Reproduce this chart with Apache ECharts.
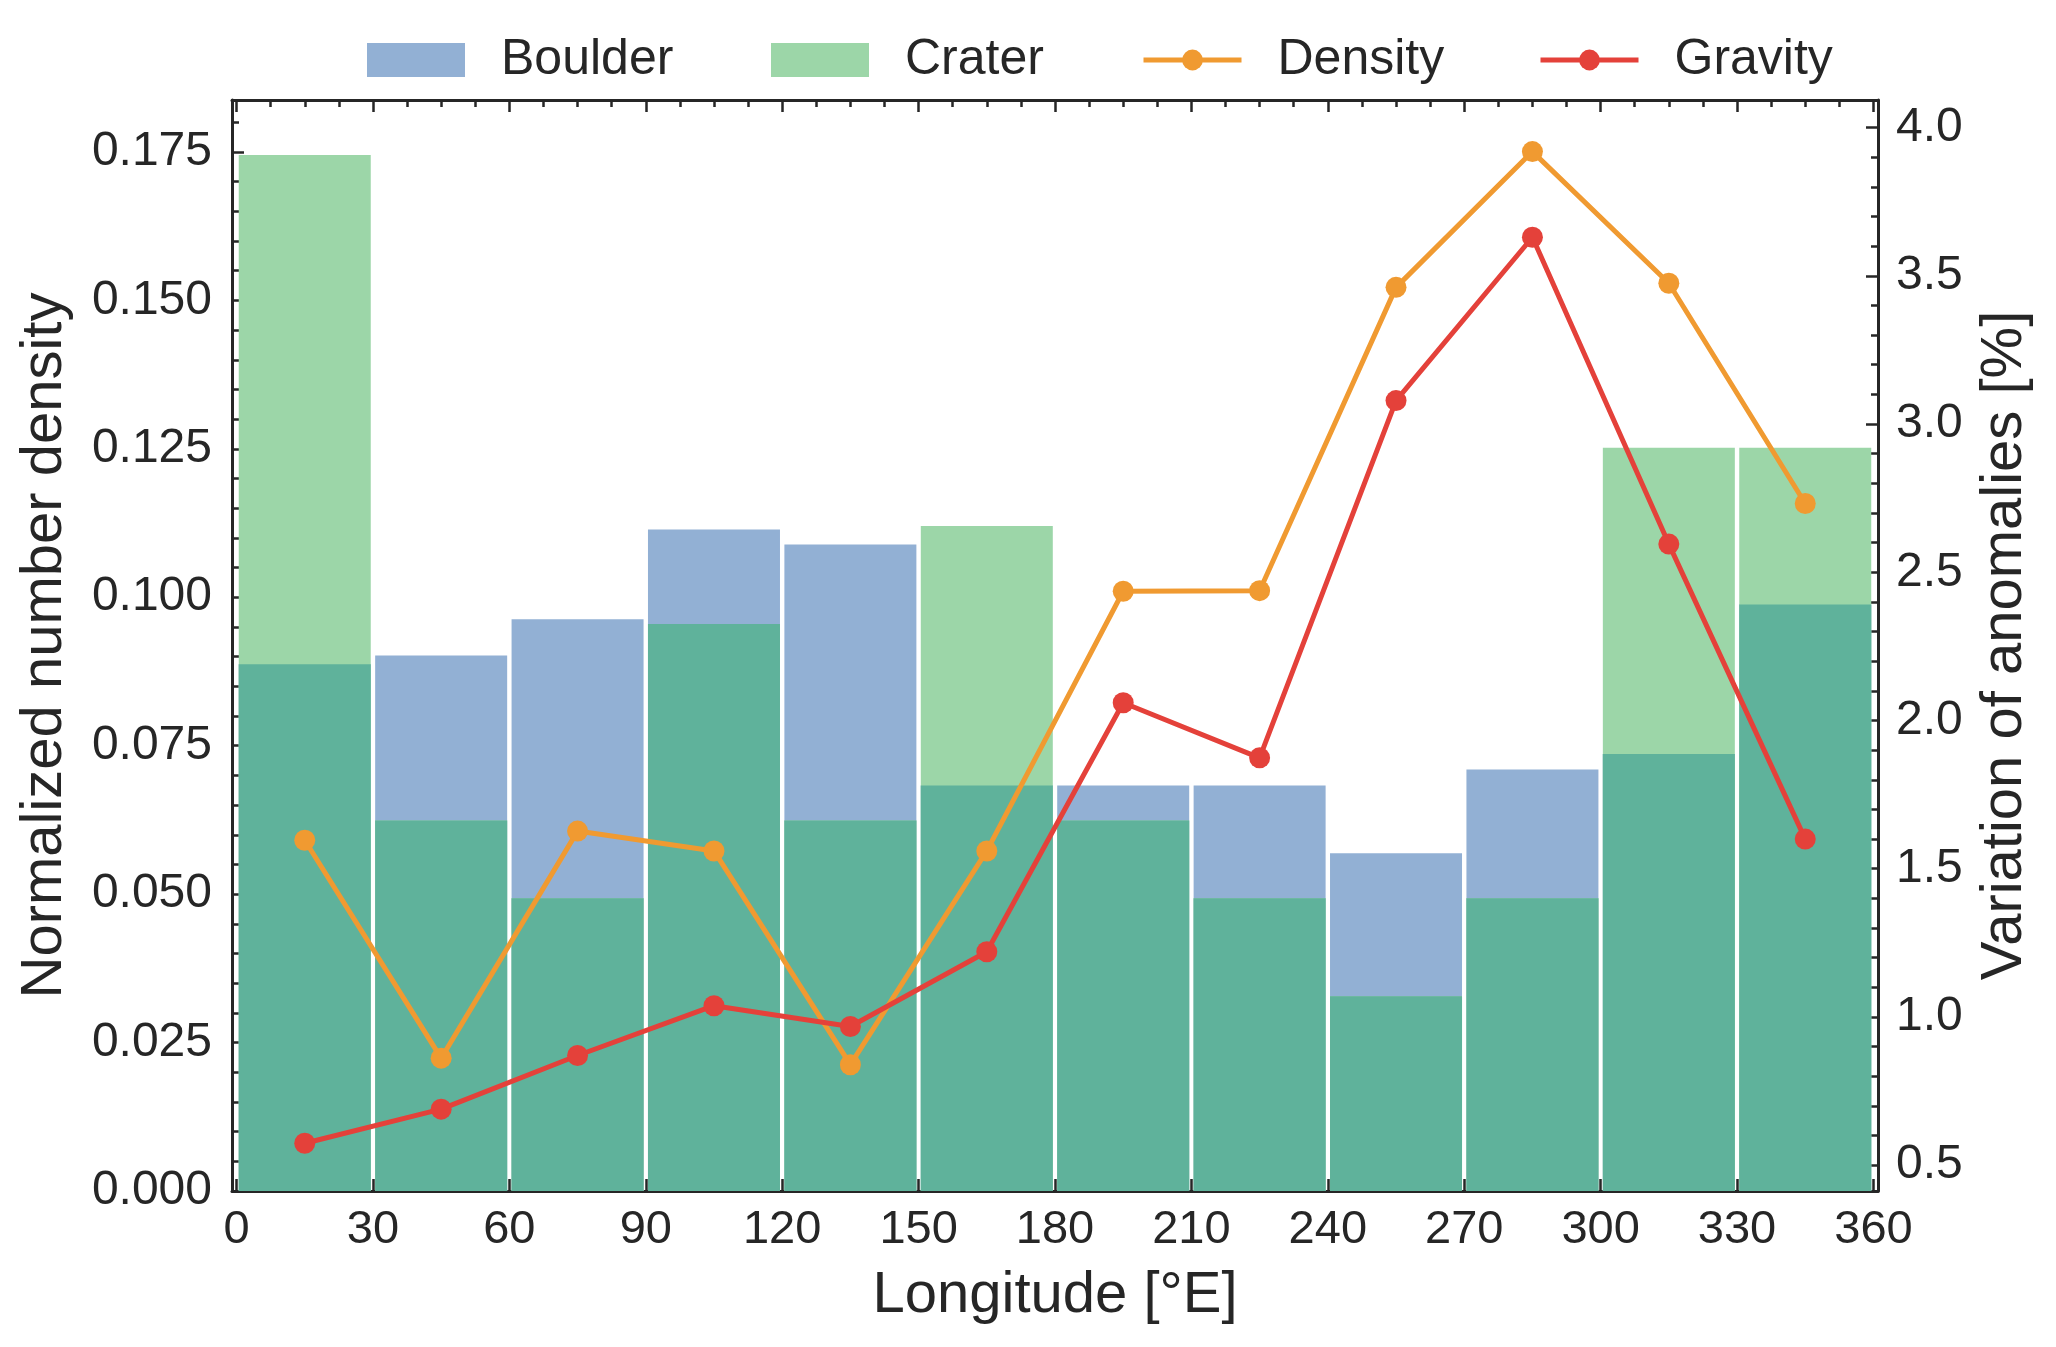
<!DOCTYPE html>
<html>
<head>
<meta charset="utf-8">
<script src="https://cdn.jsdelivr.net/npm/echarts@6/dist/echarts.min.js"></script>
<style>
  html, body { margin: 0; padding: 0; background: #fff; }
  #chart { width: 2056px; height: 1347px; }
</style>
</head>
<body>
<div id="chart"></div>
<script>
// longitude bins (30 deg wide), centres used for both bars and lines
const binCenters = [15, 45, 75, 105, 135, 165, 195, 225, 255, 285, 315, 345]
// normalized number density per bin
const boulder = [0.0887, 0.0902, 0.0963, 0.1114, 0.1089, 0.0683, 0.0683, 0.0683, 0.0569, 0.0710, 0.0736, 0.0988]
const crater = [0.1745, 0.0624, 0.0493, 0.0955, 0.0624, 0.1120, 0.0624, 0.0493, 0.0328, 0.0493, 0.1252, 0.1252]
// variation of anomalies [%]
const density = [1.596, 0.861, 1.627, 1.560, 0.839, 1.560, 2.436, 2.438, 3.461, 3.919, 3.475, 2.732]
const gravity = [0.574, 0.689, 0.870, 1.038, 0.968, 1.220, 2.060, 1.874, 3.079, 3.630, 2.595, 1.600]
// tick labels
const xTicks = [0, 30, 60, 90, 120, 150, 180, 210, 240, 270, 300, 330, 360]
const leftTicks = [0, 0.025, 0.05, 0.075, 0.1, 0.125, 0.15, 0.175]
const rightTicks = [0.5, 1.0, 1.5, 2.0, 2.5, 3.0, 3.5, 4.0]

const colors = {
  boulder: '#92b0d4',
  crater: '#9cd6a8',
  overlap: '#5fb29b',
  density: '#f09a31',
  gravity: '#e4413a'
}
const ink = '#262626'
const font = 'Liberation Sans, Arial, sans-serif'

// minor tick positions (between the labelled ticks)
const xMinor = []
for (let v = 7.5; v < 360; v += 7.5) if (v % 30 !== 0) xMinor.push(v)
const leftMinor = []
for (let k = 1; k <= 36; k++) if (k % 5 !== 0) leftMinor.push(+(k * 0.005).toFixed(3))
const rightMinor = []
for (let k = 5; k <= 40; k++) if (k % 5 !== 0) rightMinor.push(+(k * 0.1).toFixed(1))

const xRange = { min: -1, max: 361 }
const leftRange = { min: 0, max: 0.18375 }
const rightRange = { min: 0.413, max: 4.093 }

function tickAxis(range, position, ticks, len, withLine) {
  return {
    type: 'value',
    min: range.min,
    max: range.max,
    position: position,
    axisLine: { show: withLine, onZero: false, lineStyle: { color: ink, width: 3 } },
    axisTick: { show: true, inside: true, length: len, customValues: ticks, lineStyle: { color: ink, width: 2.5 } },
    axisLabel: { show: false },
    splitLine: { show: false }
  }
}

const xMain = tickAxis(xRange, 'bottom', xTicks, 12, true)
xMain.axisLabel = { show: true, customValues: xTicks, fontSize: 47, margin: 16, color: ink, fontFamily: font }
xMain.name = 'Longitude [°E]'
xMain.nameLocation = 'middle'
xMain.nameGap = 76
xMain.nameTextStyle = { fontSize: 58, color: ink, fontFamily: font }

const yLeft = tickAxis(leftRange, 'left', leftTicks, 12, true)
yLeft.axisLabel = {
  show: true, customValues: leftTicks, fontSize: 48, margin: 20, color: ink, fontFamily: font,
  formatter: (v) => v.toFixed(3)
}
yLeft.name = 'Normalized number density'
yLeft.nameLocation = 'middle'
yLeft.nameRotate = 90
yLeft.nameGap = 158
yLeft.nameTextStyle = { fontSize: 58, color: ink, fontFamily: font }

const yRight = tickAxis(rightRange, 'right', rightTicks, 12, true)
yRight.axisLabel = {
  show: true, customValues: rightTicks, fontSize: 48, margin: 18, color: ink, fontFamily: font,
  formatter: (v) => v.toFixed(1)
}
yRight.name = 'Variation of anomalies [%]'
yRight.nameLocation = 'middle'
yRight.nameRotate = 90
yRight.nameGap = 98
yRight.nameTextStyle = { fontSize: 58, color: ink, fontFamily: font }

const barBase = {
  type: 'bar',
  xAxisIndex: 0,
  yAxisIndex: 0,
  barWidth: 132,
  barGap: '-100%',
  silent: true,
  z: 2
}

const lineBase = {
  type: 'line',
  xAxisIndex: 0,
  yAxisIndex: 2,
  symbol: 'circle',
  symbolSize: 21,
  z: 5
}

function legendAt(name, left, h, icon) {
  const lg = {
    data: [name],
    left: left,
    top: 35,
    padding: 0,
    itemWidth: 98,
    itemHeight: h,
    selectedMode: false,
    lineStyle: { width: 5 },
    textStyle: { fontSize: 50, color: ink, fontFamily: font, padding: [0, 0, 0, 31] }
  }
  if (icon) lg.icon = icon
  return lg
}

const chart = echarts.init(document.getElementById('chart'), null, { renderer: 'canvas' })
chart.setOption({
  animation: false,
  backgroundColor: '#ffffff',
  grid: { left: 232, top: 100, width: 1646, height: 1091, containLabel: false },
  legend: [
    legendAt('Boulder', 367, 34, 'rect'),
    legendAt('Crater', 771, 34, 'rect'),
    legendAt('Density', 1141, 26),
    legendAt('Gravity', 1538, 26)
  ],
  xAxis: [
    xMain,
    tickAxis(xRange, 'bottom', xMinor, 7, false),
    tickAxis(xRange, 'top', xTicks, 12, true),
    tickAxis(xRange, 'top', xMinor, 7, false)
  ],
  yAxis: [
    yLeft,
    tickAxis(leftRange, 'left', leftMinor, 7, false),
    yRight,
    tickAxis(rightRange, 'right', rightMinor, 7, false)
  ],
  series: [
    Object.assign({}, barBase, {
      name: 'Boulder',
      itemStyle: { color: colors.boulder },
      data: binCenters.map((x, i) => [x, boulder[i]])
    }),
    Object.assign({}, barBase, {
      name: 'Crater',
      itemStyle: { color: colors.crater },
      data: binCenters.map((x, i) => [x, crater[i]])
    }),
    // where the two histograms overlap
    Object.assign({}, barBase, {
      name: 'overlap',
      itemStyle: { color: colors.overlap },
      data: binCenters.map((x, i) => [x, Math.min(boulder[i], crater[i])])
    }),
    Object.assign({}, lineBase, {
      name: 'Density',
      itemStyle: { color: colors.density },
      lineStyle: { color: colors.density, width: 5 },
      data: binCenters.map((x, i) => [x, density[i]])
    }),
    Object.assign({}, lineBase, {
      name: 'Gravity',
      itemStyle: { color: colors.gravity },
      lineStyle: { color: colors.gravity, width: 5 },
      data: binCenters.map((x, i) => [x, gravity[i]])
    })
  ]
})
</script>
</body>
</html>
